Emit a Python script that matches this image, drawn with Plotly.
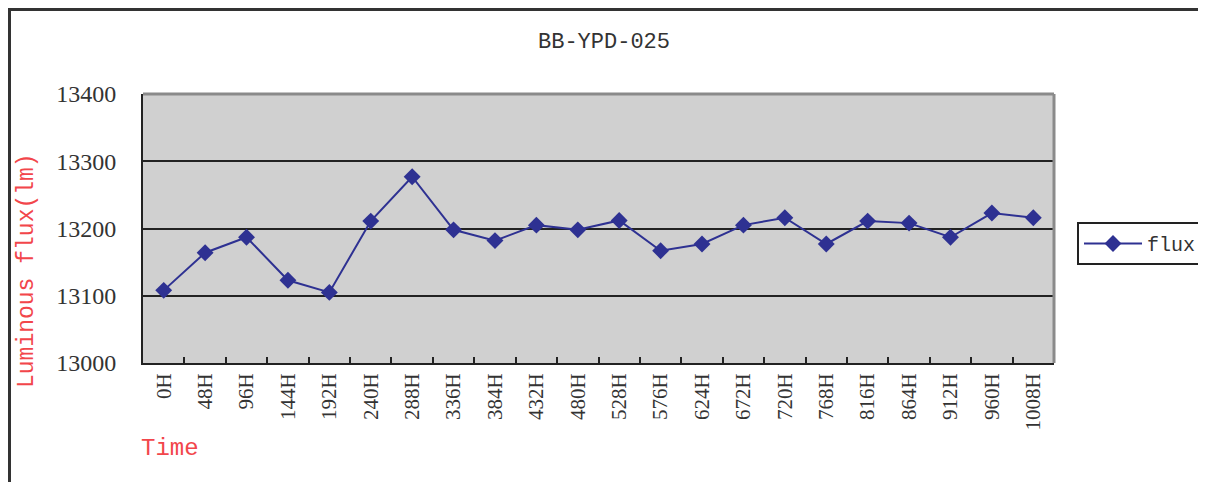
import plotly.graph_objects as go

categories = ["0H", "48H", "96H", "144H", "192H", "240H", "288H", "336H", "384H", "432H", "480H",
              "528H", "576H", "624H", "672H", "720H", "768H", "816H", "864H", "912H", "960H", "1008H"]
flux = [13108, 13164, 13187, 13123, 13105, 13211, 13277, 13198, 13182, 13205, 13198,
        13212, 13167, 13177, 13205, 13216, 13177, 13211, 13208, 13187, 13223, 13216]
y_ticks = [13000, 13100, 13200, 13300, 13400]

# page offset (body margin) compensation
O = 8
W, H = 1206 - O, 482 - O
# plot area in reference pixel coordinates
PL, PR, PT, PB = 143, 1054, 94, 363
L, T = PL - O, PT - O
R, B = W - (PR - O), H - (PB - O)
pw, ph = PR - PL, PB - PT

def px(x):
    return (x - PL) / pw

def py(y):
    return (PB - y) / ph

NAVY = "#2E3192"
RED = "#F2464B"
SERIF = "Liberation Serif"
MONO = "Liberation Mono"

fig = go.Figure()
fig.add_trace(go.Scatter(
    x=categories, y=flux, mode="lines+markers", name="flux",
    line=dict(color=NAVY, width=2),
    marker=dict(symbol="diamond", size=13, color=NAVY),
))

fig.update_layout(
    width=W, height=H,
    margin=dict(l=L, r=R, t=T, b=B, autoexpand=False),
    paper_bgcolor="white", plot_bgcolor="#D0D0D0",
    showlegend=True,
    legend=dict(x=px(1077), y=py(222), xanchor="left", yanchor="top",
                bgcolor="white", bordercolor="#222", borderwidth=2,
                itemwidth=58, tracegroupgap=0,
                font=dict(family=MONO, size=20, color="#333")),
    xaxis=dict(
        type="category", range=[-0.5, len(categories) - 0.5],
        showline=True, linecolor="#222", linewidth=2,
        ticks="inside", ticklen=6, tickcolor="#222", tickwidth=2,
        tickson="boundaries", tickangle=-90,
        tickfont=dict(family=SERIF, size=21, color="#333"),
        showgrid=False, zeroline=False,
    ),
    yaxis=dict(
        range=[13000, 13400], tickvals=y_ticks, tickformat="d",
        showline=True, linecolor="#222", linewidth=2,
        ticks="inside", ticklen=6, tickcolor="#222", tickwidth=2,
        tickfont=dict(family=SERIF, size=24, color="#333"),
        ticklabelstandoff=20,
        showgrid=True, gridcolor="#222", gridwidth=2, zeroline=False,
    ),
    shapes=[
        dict(type="line", xref="paper", yref="paper", x0=0, x1=1, y0=1, y1=1,
             line=dict(color="#8A8A8A", width=3)),
        dict(type="line", xref="paper", yref="paper", x0=1, x1=1, y0=0, y1=1,
             line=dict(color="#8A8A8A", width=3)),
        dict(type="rect", xref="paper", yref="paper", x0=px(9.5), x1=px(1300), y0=py(600), y1=py(9.5),
             line=dict(color="#333", width=3), layer="below"),
    ],
    annotations=[
        dict(text="BB-YPD-025", xref="paper", yref="paper", x=px(604), y=py(42),
             xanchor="center", yanchor="middle",
             showarrow=False, font=dict(family=MONO, size=22, color="#333")),
        dict(text="Luminous flux(lm)", xref="paper", yref="paper", x=px(27), y=py(271),
             xanchor="center", yanchor="middle",
             textangle=-90, showarrow=False, font=dict(family=MONO, size=23, color=RED)),
        dict(text="Time", xref="paper", yref="paper", x=px(139), y=py(448),
             xanchor="left", yanchor="middle",
             showarrow=False, font=dict(family=MONO, size=24, color=RED)),
    ],
)

fig.write_html("out.html")
